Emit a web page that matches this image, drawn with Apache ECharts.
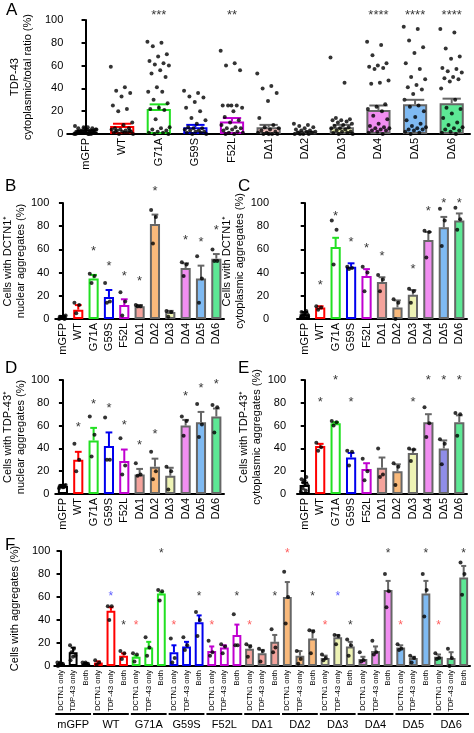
<!DOCTYPE html>
<html><head><meta charset="utf-8">
<script src="https://cdn.jsdelivr.net/npm/echarts@6/dist/echarts.min.js"></script>
<style>html,body{margin:0;padding:0;background:#fff}#c{width:474px;height:733px}</style>
</head><body><div id="c"></div>
<script>
const categories = ['mGFP','WT','G71A','G59S','F52L','DΔ1','DΔ2','DΔ3','DΔ4','DΔ5','DΔ6'];
const subCategories = ['DCTN1 only','TDP-43 only','Both'];
const yTicks = [0,20,40,60,80,100];

const aMean = [2,7,22,6,11,6,1.5,6,21,26,27];
const aErr  = [1,2,4,2,3,2,0.5,2,4,4,4];
const aStars = ['','','***','','**','','','','****','****','****'];
const aDots = [
 [0,0,1,1,2,2,3,3,4,4,5,5,6,7,0,1,2,3,1,0,2,4,6,1,3,5,0,2],
 [59,41,38,36,33,25,22,20,10,8,5,5,4,4,3,3,2,2,1,1,0,0,1,2,3],
 [81,80,77,70,68,64,62,61,60,56,53,50,41,37,37,30,27,23,22,21,13,6,5,4,3,2,1,1,0,0],
 [38,36,33,32,28,23,20,14,12,9,6,5,5,4,3,3,2,2,1,1,0,0],
 [73,62,60,56,25,25,25,25,23,20,15,12,10,8,6,5,5,4,3,2,1,1,0,0],
 [53,42,40,36,29,14,8,6,5,4,3,2,1,1,0,0,0,0],
 [9,8,7,6,5,4,3,3,2,2,1,1,0,0,0,0],
 [67,45,14,13,12,12,11,10,9,8,7,6,5,5,4,3,2,2,1,1,0,0],
 [81,78,69,62,60,59,58,57,47,45,44,26,24,22,20,16,13,9,7,6,5,5,4,3,3,2,1,0],
 [94,92,82,76,71,62,57,50,48,43,41,39,35,30,25,24,20,15,12,9,7,6,5,4,4,3,2,1,0],
 [92,89,75,68,66,58,57,55,54,50,49,48,46,40,30,23,22,18,14,10,8,6,5,4,3,2,1,0]
];

const bMean = [1.5,8,35,19,12,11,82,6,44,35,52];
const bErr  = [1,4,3,6,5,1,8,1,4,11,4];
const bStars = ['','','*','*','*','*','*','','*','*','*'];
const bDots = [[0,1,2,3,1,2,0,1],[14,12,5],[39,37,31],[31,15,14],[23,15,3],[12,11,11],[94,88,65],[7,6,2],[49,47,37],[54,35,14],[60,50,50]];

const cMean = [4,10,62,45,37,32,10,21,68,79,85];
const cErr  = [2,1,8,3,6,4,6,4,7,9,6];
const cStars = ['','*','*','*','*','*','','*','*','*','*'];
const cDots = [[1,2,3,4,5,6,7,3,2],[11,10,8],[85,77,47],[45,44,43],[45,40,24],[38,34,24],[17,14,0],[26,24,14],[76,75,53],[95,85,63],[96,86,77]];

const dMean = [7,30,47,42,29,17,24,16,60,63,68];
const dErr  = [1,7,11,12,10,5,7,7,5,9,7];
const dStars = ['','*','*','*','*','*','*','','*','*','*'];
const dDots = [[5,6,7,8,6,7],[44,30,20],[68,52,33],[67,30,30],[49,25,17],[27,17,16],[37,20,13],[24,20,4],[68,64,51],[79,61,50],[78,76,54]];

const eMean = [8,42,62,32,22,23,20,36,63,40,63];
const eErr  = [2,2,1,4,5,9,6,3,7,7,6];
const eStars = ['','*','*','*','','','','*','*','*','*'];
const eStarY = [0,80,100,80,0,0,0,80,100,100,100];
const eDots = [[2,3,5,8,12,13,15,10],[45,41,38],[64,63,60],[38,37,25],[31,20,12],[40,17,15],[27,24,8],[40,39,29],[76,62,50],[48,44,26],[71,70,51]];

const fMean = [2,12,2, 3,48,9, 8,16,63, 12,17,38, 13,16,27, 15,11,21, 60,9,24, 7,25,17, 6,13,66, 16,7,63, 8,7,77];
const fErr  = [0.5,4,0.5, 1,3,2, 1,5,1, 6,4,6, 4,2,9, 3,3,6, 13,4,7, 2,2,4, 2,4,8, 2,1,11, 2,5,10];
const fDots = [
 [3,2,1,2,3,0],[18,15,12,9,8,5],[3,2,1,2,3],
 [5,3,1],[52,52,40],[13,11,6],
 [11,10,4],[25,16,9],[66,65,57],
 [24,7,3],[25,18,14],[47,40,26],
 [22,12,9],[19,17,11],[45,18,18],
 [19,17,8],[15,13,4],[32,16,12],
 [82,60,37],[13,6,2],[31,30,11],
 [10,7,5],[27,26,19],[23,18,9],
 [12,5,4],[22,12,10],[80,65,51],
 [19,15,14],[9,7,3],[80,66,43],
 [11,7,6],[15,7,0],[90,80,62]
];
const fStars = [ // [barIndex, y, color]
 [4,60,'#33f'],[5,35,'#000'],[6,35,'#f33'],[8,98,'#000'],[9,35,'#f33'],[11,60,'#000'],
 [12,35,'#f33'],[14,60,'#000'],[15,35,'#f33'],[17,60,'#000'],[18,98,'#f33'],[20,60,'#000'],
 [21,35,'#f33'],[22,60,'#33f'],[23,35,'#000'],[26,98,'#000'],[27,35,'#f33'],[29,98,'#000'],
 [30,35,'#f33'],[32,98,'#000']
];

const borderC = ['#000','#f00','#22e022','#0000ee','#c000d0','#666','#666','#666','#666','#666','#666'];
const fillC = ['#fff','#fff','#fff','#fff','#fff','#f4a39c','#f9b97b','#eef3b5','#f18ef1','#7fbaf2','#5de895'];
const aFill = ['#fff','#fff','#fff','#fff','#fff','#f6c6c2','#bbb','#eef3b5','#f18ef1','#7fbaf2','#5de895'];
const eFill = ['#fff','#fff','#fff','#fff','#fff','#f4a39c','#f9b97b','#eef3b5','#f18ef1','#8f8de8','#5de895'];

const FONT = 'Liberation Sans, Arial, sans-serif';
const chart = echarts.init(document.getElementById('c'));
const grid=[], xAxis=[], yAxis=[], series=[];

function jit(k, n, spread){ if(n<=1) return 0; return (((k*0.618034)%1)-0.5)*spread; }

function addPanel(p){
  const gi = grid.length;
  grid.push(p.grid);
  const xi = xAxis.length;
  const n = p.cats.length;
  xAxis.push({type:'category', gridIndex:gi, data:p.cats, axisLine:{lineStyle:{color:'#000',width:2}}, axisTick:{show:false},
    axisLabel:{rotate:90, interval:0, color:'#000', fontFamily:FONT, fontSize:p.labelSize||11, margin:4}});
  xAxis.push({type:'value', gridIndex:gi, min:-0.5, max:n-0.5, show:false});
  const yi = yAxis.length;
  yAxis.push({type:'value', gridIndex:gi, min:0, max:100, interval:20, offset:p.yOffset||0,
    name:p.yName, nameLocation:'middle', nameGap:p.nameGap||28, nameTextStyle:{color:'#000',fontFamily:FONT,fontSize:11,lineHeight:13},
    axisLine:{show:true,lineStyle:{color:'#000',width:2}}, axisTick:{show:true,length:4,lineStyle:{width:2,color:'#000'}},
    splitLine:{show:false}, axisLabel:{color:'#000',fontFamily:FONT,fontSize:11,margin:4}});
  series.push({type:'bar', xAxisIndex:xi, yAxisIndex:yi, barWidth:p.barWidth, silent:true,
    data:p.mean.map((v,i)=>({value:v,itemStyle:{color:p.fill(i),borderColor:p.border(i),borderWidth:p.bw||2}})), z:2});
  series.push({type:'custom', xAxisIndex:xi+1, yAxisIndex:yi, z:3, silent:true,
    data:p.mean.map((v,i)=>[i,v,p.err[i],i]),
    renderItem:(params,api)=>{
      const i=api.value(3), a=api.coord([api.value(0),api.value(1)]), b=api.coord([api.value(0),api.value(1)+api.value(2)]);
      const w=api.size([1,0])[0]*p.capFrac;
      const st={stroke:p.border(i),lineWidth:p.ew||2};
      return {type:'group',children:[
        {type:'line',shape:{x1:a[0],y1:a[1],x2:b[0],y2:b[1]},style:st},
        {type:'line',shape:{x1:b[0]-w,y1:b[1],x2:b[0]+w,y2:b[1]},style:st}]};
    }});
  const pts=[];
  p.dots.forEach((arr,i)=>arr.forEach((v,k)=>pts.push([i+jit(k,arr.length,p.spread),v])));
  series.push({type:'scatter', xAxisIndex:xi+1, yAxisIndex:yi, data:pts, symbolSize:p.dotSize||4, itemStyle:{color:'#000'}, z:4, silent:true, clip:false});
  series.push({type:'scatter', xAxisIndex:xi+1, yAxisIndex:yi, symbolSize:1, itemStyle:{color:'rgba(0,0,0,0)'}, z:5, silent:true, clip:false,
    data:p.stars.map(s=>({value:[s[0],s[1]],label:{show:true,position:'inside',formatter:s[2],color:s[3]||'#000',fontSize:p.starSize||13,fontFamily:FONT}}))});
  return xi;
}
const catStars = (st,y)=>st.map((s,i)=>[i,Array.isArray(y)?y[i]:y,s]).filter(s=>s[2]);

addPanel({grid:{left:50,top:20,width:420,height:114}, cats:categories, mean:aMean, err:aErr, dots:aDots,
  stars:catStars(aStars,104), fill:i=>aFill[i], border:i=>borderC[i], barWidth:'66%', capFrac:0.25, spread:0.62,
  yName:'TDP-43\ncytoplasmic/total ratio (%)', nameGap:24, dotSize:4, starSize:13});
addPanel({grid:{left:52,top:203,width:172,height:116}, cats:categories, mean:bMean, err:bErr, dots:bDots,
  stars:catStars(bStars,bMean.map((v,i)=>v+bErr[i]+20)), fill:i=>fillC[i], border:i=>borderC[i], barWidth:'66%', capFrac:0.22, spread:0.5,
  yName:'Cells with DCTN1⁺\nnuclear aggregates (%)', nameGap:26, yOffset:2});
addPanel({grid:{left:297,top:203,width:170,height:116}, cats:categories, mean:cMean, err:cErr, dots:cDots,
  stars:catStars(cStars,cMean.map((v,i)=>Math.min(100,v+cErr[i]+18))), fill:i=>fillC[i], border:i=>borderC[i], barWidth:'66%', capFrac:0.22, spread:0.5,
  yName:'Cells with DCTN1⁺\ncytoplasmic aggregates (%)', nameGap:26, yOffset:24});
addPanel({grid:{left:52,top:380,width:172,height:114}, cats:categories, mean:dMean, err:dErr, dots:dDots,
  stars:catStars(dStars,dMean.map((v,i)=>Math.min(100,v+dErr[i]+21))), fill:i=>fillC[i], border:i=>borderC[i], barWidth:'66%', capFrac:0.22, spread:0.5,
  yName:'Cells with TDP-43⁺\nnuclear aggregates (%)', nameGap:26, yOffset:2});
addPanel({grid:{left:297,top:380,width:170,height:114}, cats:categories, mean:eMean, err:eErr, dots:eDots,
  stars:catStars(eStars,eStarY), fill:i=>eFill[i], border:i=>borderC[i], barWidth:'66%', capFrac:0.22, spread:0.5,
  yName:'Cells with TDP-43⁺\ncytoplasmic aggregates (%)', nameGap:26, yOffset:7});
const fCats = []; categories.forEach(()=>subCategories.forEach(s=>fCats.push(s)));
const fX = addPanel({grid:{left:52,top:551,width:418,height:115}, cats:fCats, mean:fMean, err:fErr, dots:fDots,
  stars:fStars.map(s=>[s[0],s[1],'*',s[2]]), fill:i=>fillC[Math.floor(i/3)], border:i=>borderC[Math.floor(i/3)], barWidth:'70%', capFrac:0.2, spread:0.5,
  yName:'Cells with aggregates (%)', nameGap:26, labelSize:7.5, starSize:12});

const letters = [['A',6,2],['B',5,178],['C',238,178],['D',5,360],['E',238,360],['F',5,537]];
chart.setOption({animation:false, grid, xAxis, yAxis, series});

const extra = [];
categories.forEach((c,g)=>{
  const x0 = chart.convertToPixel({xAxisIndex:fX+1}, 3*g-0.42);
  const x1 = chart.convertToPixel({xAxisIndex:fX+1}, 3*g+2.42);
  extra.push({type:'line',shape:{x1:x0,y1:714,x2:x1,y2:714},style:{stroke:'#000',lineWidth:2}});
  extra.push({type:'text',x:(x0+x1)/2,y:719,style:{text:c,fontSize:11,fontFamily:FONT,fill:'#000',align:'center',verticalAlign:'top'}});
});
chart.setOption({graphic: letters.map(l=>({type:'text',left:l[1],top:l[2],style:{text:l[0],fontSize:17,fontFamily:FONT,fill:'#000'}})).concat(extra)});
</script></body></html>
